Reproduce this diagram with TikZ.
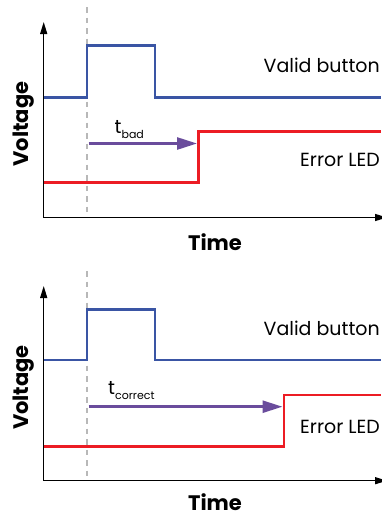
\documentclass[tikz,border=0pt]{standalone}
\usepackage{fontspec}
\setmainfont{Poppins}
\usetikzlibrary{arrows.meta}
\definecolor{sigblue}{HTML}{3A55A4}
\definecolor{sigred}{HTML}{EC1C24}
\definecolor{sigpurple}{HTML}{6A4C9C}
\definecolor{markgray}{HTML}{B8B8B8}
\tikzset{
  axisline/.style={line width=1.3pt,-{Triangle[length=12pt,width=7pt]}},
  bluesig/.style={sigblue,line width=2.6pt},
  redsig/.style={sigred,line width=2.6pt},
  delayarrow/.style={sigpurple,line width=2.6pt,-{Triangle[length=20pt,width=12pt]}},
  marker/.style={markgray,line width=2.3pt,dash pattern=on 5.5pt off 5pt},
  siglabel/.style={anchor=base east,inner sep=0pt,font=\fontsize{19}{19}\selectfont},
  axislabel/.style={inner sep=0pt,font=\fontsize{21}{21}\selectfont\bfseries},
  tlabel/.style={anchor=base west,inner sep=0pt,font=\fontsize{19}{19}\selectfont}
}
\newcommand{\tsub}[1]{t\raisebox{-5pt}{\fontsize{11}{11}\selectfont #1}}
\begin{document}
\begin{tikzpicture}[x=1pt,y=-1pt]
\useasboundingbox (0,0) rectangle (381,517);
% ---------- top panel ----------
\coordinate (oA) at (43.7,217.5);
\coordinate (yA) at (43.7,22);
\coordinate (xA) at (387,217.5);
\coordinate (mtA) at (87,7);
\coordinate (mbA) at (87,217.5);
\draw[marker] (mtA) -- (mbA);
\draw[axisline] (oA) -- (yA);
\draw[axisline] (oA) -- (xA);
\coordinate (bsA) at (43.7,97.5);
\coordinate (beA) at (381,97.5);
\draw[bluesig] (bsA) -| (87,45.5) -| (155,97.5) -- (beA);
\coordinate (rsA) at (43.7,182.5);
\coordinate (reA) at (381,131.5);
\draw[redsig] (rsA) -| (198.5,131.5) -- (reA);
\coordinate (asA) at (88.5,143.5);
\coordinate (aeA) at (197,143.5);
\draw[delayarrow] (asA) -- (aeA);
\node[tlabel] (tA) at (114.5,133) {\tsub{bad}};
\node[siglabel] (vbA) at (380,72.3) {Valid button};
\node[siglabel] (elA) at (380,166) {Error LED};
\node[axislabel,anchor=base] (timeA) at (215,250) {Time};
\node[axislabel,rotate=90,anchor=base] (voltA) at (28,124) {Voltage};
% ---------- bottom panel ----------
\coordinate (oB) at (43.7,480.7);
\coordinate (yB) at (43.7,286);
\coordinate (xB) at (387,480.7);
\coordinate (mtB) at (87,271);
\coordinate (mbB) at (87,480.7);
\draw[marker] (mtB) -- (mbB);
\draw[axisline] (oB) -- (yB);
\draw[axisline] (oB) -- (xB);
\coordinate (bsB) at (43.7,360);
\coordinate (beB) at (381,360);
\draw[bluesig] (bsB) -| (87,309.3) -| (155,360) -- (beB);
\coordinate (rsB) at (43.7,446.7);
\coordinate (reB) at (381,395);
\draw[redsig] (rsB) -| (284,395) -- (reB);
\coordinate (asB) at (88.5,406.7);
\coordinate (aeB) at (282.5,406.7);
\draw[delayarrow] (asB) -- (aeB);
\node[tlabel] (tB) at (108,394) {\tsub{correct}};
\node[siglabel] (vbB) at (380,335) {Valid button};
\node[siglabel] (elB) at (380,433.3) {Error LED};
\node[axislabel,anchor=base] (timeB) at (215,510.5) {Time};
\node[axislabel,rotate=90,anchor=base] (voltB) at (28,387.5) {Voltage};
\end{tikzpicture}
\end{document}
